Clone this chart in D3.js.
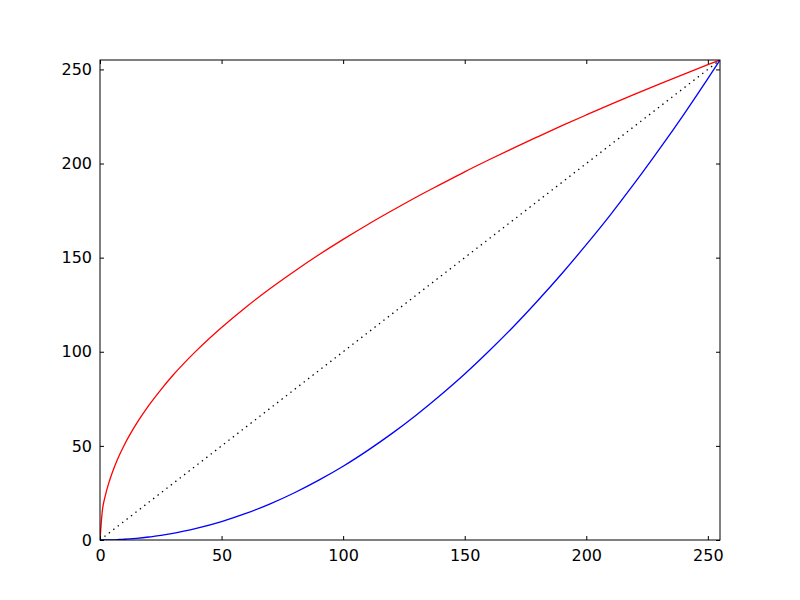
<!DOCTYPE html>
<html>
<head>
<meta charset="utf-8">
<script src="https://cdn.jsdelivr.net/npm/d3@7"></script>
<style>
  body { margin: 0; background: #fff; }
  svg { display: block; }
  .tick text { font-family: "DejaVu Sans", sans-serif; font-size: 16px; fill: #000; }
</style>
</head>
<body>
<div id="chart"></div>
<script>
// input levels
const xs = [0, 1, 2, 4, 6, 8, 10, 15, 20, 25, 30, 40, 50, 60, 70, 80, 90, 100, 110, 120,
  130, 140, 150, 160, 170, 180, 190, 200, 210, 220, 230, 240, 250, 255];
// red curve (bends up)
const redVals = [0, 16.0, 22.6, 31.9, 39.1, 45.2, 50.5, 61.8, 71.4, 79.8, 87.5, 101.0, 112.9,
  123.7, 133.6, 142.8, 151.5, 159.7, 167.5, 174.9, 182.1, 188.9, 195.6, 202.0, 208.2,
  214.2, 220.1, 225.8, 231.4, 236.9, 242.2, 247.4, 252.5, 255];
// blue curve (bends down)
const blueVals = [0, 0.0, 0.0, 0.1, 0.1, 0.3, 0.4, 0.9, 1.6, 2.5, 3.5, 6.3, 9.8, 14.1, 19.2,
  25.1, 31.8, 39.2, 47.5, 56.5, 66.3, 76.9, 88.2, 100.4, 113.3, 127.1, 141.6, 156.9,
  172.9, 189.8, 207.5, 225.9, 245.1, 255];
// dotted identity line
const diagX = [0, 255];
const diagY = [0, 255];
const xTicks = [0, 50, 100, 150, 200, 250];
const yTicks = [0, 50, 100, 150, 200, 250];

const width = 800;
const height = 600;
const margin = { top: 60, right: 80, bottom: 60, left: 100 };

const svg = d3.select("#chart").append("svg")
  .attr("width", width).attr("height", height);

const x = d3.scaleLinear().domain([0, 255]).range([margin.left, width - margin.right]);
const y = d3.scaleLinear().domain([0, 255]).range([height - margin.bottom, margin.top]);

svg.append("clipPath").attr("id", "clip")
  .append("rect")
  .attr("x", margin.left).attr("y", margin.top)
  .attr("width", width - margin.left - margin.right)
  .attr("height", height - margin.top - margin.bottom);

const line = d3.line()
  .x((d) => x(d[0]))
  .y((d) => y(d[1]))
  .curve(d3.curveMonotoneX);

const plot = svg.append("g").attr("clip-path", "url(#clip)");

plot.append("path")
  .datum(xs.map((v, i) => [v, redVals[i]]))
  .attr("d", line)
  .attr("fill", "none").attr("stroke", "#ff0000").attr("stroke-width", 1.3);

plot.append("path")
  .datum(xs.map((v, i) => [v, blueVals[i]]))
  .attr("d", line)
  .attr("fill", "none").attr("stroke", "#0000ff").attr("stroke-width", 1.3);

plot.append("path")
  .datum(diagX.map((v, i) => [v, diagY[i]]))
  .attr("d", d3.line().x((d) => x(d[0])).y((d) => y(d[1])))
  .attr("fill", "none").attr("stroke", "#000").attr("stroke-width", 1.3)
  .attr("stroke-dasharray", "1.4,4.2");

// axes with inward ticks on all four sides
const tickLen = 4;
const gx = svg.append("g")
  .attr("transform", `translate(0,${height - margin.bottom})`)
  .call(d3.axisBottom(x).tickValues(xTicks).tickSizeInner(-tickLen).tickSizeOuter(0).tickPadding(10));
const gy = svg.append("g")
  .attr("transform", `translate(${margin.left},0)`)
  .call(d3.axisLeft(y).tickValues(yTicks).tickSizeInner(-tickLen).tickSizeOuter(0).tickPadding(8));
const gt = svg.append("g")
  .attr("transform", `translate(0,${margin.top})`)
  .call(d3.axisTop(x).tickValues(xTicks).tickSizeInner(-tickLen).tickSizeOuter(0).tickFormat(""));
const gr = svg.append("g")
  .attr("transform", `translate(${width - margin.right},0)`)
  .call(d3.axisRight(y).tickValues(yTicks).tickSizeInner(-tickLen).tickSizeOuter(0).tickFormat(""));

[gx, gy, gt, gr].forEach((g) => {
  g.select(".domain").remove();
  g.selectAll(".tick line").attr("stroke", "#000");
});

svg.append("rect")
  .attr("x", margin.left).attr("y", margin.top)
  .attr("width", width - margin.left - margin.right)
  .attr("height", height - margin.top - margin.bottom)
  .attr("fill", "none").attr("stroke", "#000").attr("stroke-width", 1);
</script>
</body>
</html>
